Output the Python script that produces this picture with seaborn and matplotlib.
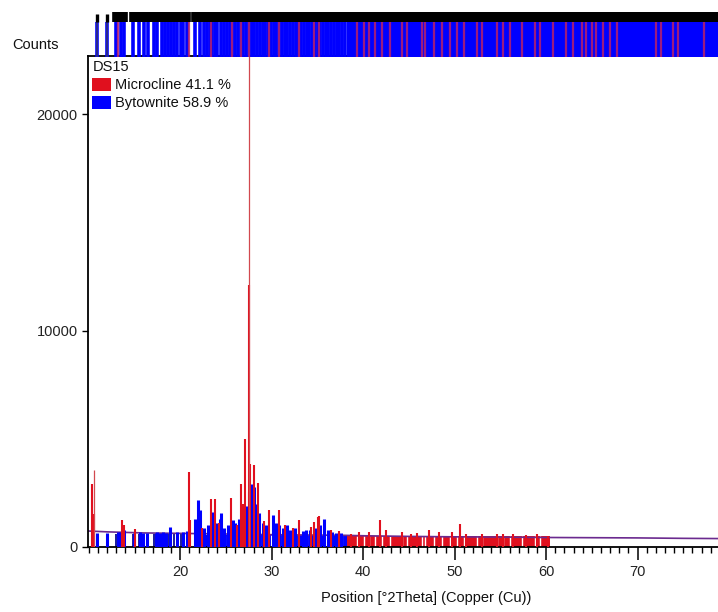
import numpy as np
import matplotlib
matplotlib.use("Agg")
import matplotlib.pyplot as plt
from matplotlib.patches import Patch
import seaborn as sns

# ---------------- data ----------------
phase_names = ["Microcline 41.1 %", "Bytownite 58.9 %"]
sample_name = "DS15"

# Microcline (red) peak sticks: position [deg 2theta], counts
microcline_pos = [10.36, 10.58, 13.63, 13.85, 15.0, 21.0, 21.1, 22.4, 23.4, 23.74,
                  24.2, 25.56, 26.2, 26.65, 26.83, 27.09, 27.48, 27.67, 28.03, 28.47,
                  29.2, 29.74, 30.83, 31.4, 32.3, 33.0, 34.3, 34.6, 35.0, 35.19,
                  36.5, 37.37, 38.65, 39.5, 40.6, 41.84, 42.5, 44.2, 45.2, 45.9,
                  47.2, 48.3, 49.7, 50.57, 51.2, 53.0, 54.6, 55.3, 56.4, 57.8, 59.0, 60.2]
microcline_counts = [2930, 1540, 1270, 1000, 830, 3470, 1270, 900, 2220, 2220,
                     1100, 2270, 1000, 2930, 2000, 5010, 12100, 3850, 3780, 2950,
                     1200, 1730, 1730, 1000, 900, 1230, 925, 1160, 1390, 1420,
                     800, 730, 620, 680, 700, 1270, 770, 700, 620, 650,
                     770, 680, 700, 1080, 620, 600, 620, 580, 600, 560, 580, 520]

# Bytownite (blue) peak sticks
bytownite_pos = [10.9, 11.95, 13.2, 13.4, 13.8, 14.9, 15.6, 15.9, 16.3, 17.3,
                 17.5, 17.8, 18.1, 18.4, 18.83, 19.6, 20.3, 20.7, 21.6, 21.9,
                 22.1, 22.6, 23.0, 23.56, 23.9, 24.3, 24.47, 24.8, 25.2, 25.74,
                 26.0, 26.4, 26.9, 27.2, 27.5, 27.7, 27.85, 28.0, 28.2, 28.56,
                 29.0, 29.4, 30.17, 30.47, 30.8, 31.2, 31.63, 32.0, 32.5, 33.4,
                 33.74, 34.2, 34.8, 35.3, 35.74, 36.2, 36.6, 37.0, 37.6]
bytownite_counts = [650, 650, 700, 700, 800, 650, 700, 650, 650, 650,
                    700, 650, 700, 650, 925, 700, 700, 750, 1300, 2190,
                    1700, 900, 1000, 1620, 1100, 1280, 1570, 900, 1000, 1250,
                    1100, 1300, 1500, 1900, 2550, 2770, 2900, 2770, 2000, 1570,
                    1100, 1000, 1460, 1090, 1000, 900, 1020, 800, 900, 730,
                    770, 800, 900, 1000, 1310, 800, 700, 650, 650]

# Observed (thin) spikes
observed_pos = [10.51, 27.48]
observed_counts = [3580, 24000]

# Background level of the pattern
bg_theta = [9.9, 12, 16, 20, 25, 30, 35, 38, 40, 45, 50, 55, 60, 65, 70, 75, 78.8]
bg_counts = [740, 700, 650, 630, 600, 570, 550, 540, 520, 490, 470, 460, 440, 430, 420, 400, 390]

# Reference line positions (top strip / bottom band)
bytownite_refs = [10.86, 11.95, 12.93, 13.47, 13.83, 14.85, 15.5, 16.0, 16.45, 17.1,
                  17.5, 18.0, 18.3, 18.7, 18.95, 19.3, 19.6, 20.1, 20.3, 20.7,
                  21.6, 22.1, 22.6, 22.9, 23.2, 23.5, 23.8, 24.05, 24.4, 24.8,
                  25.1, 25.4, 25.7, 26.0, 26.3, 26.6, 26.9, 27.2, 27.5, 27.8,
                  28.1, 28.4, 28.7, 29.0, 29.3, 29.6, 29.9, 30.2, 30.5, 30.8,
                  31.1, 31.4, 31.7, 32.0, 32.3, 32.6, 32.9, 33.2, 33.5, 33.8,
                  34.1, 34.4, 34.7, 35.0, 35.3, 35.6, 35.9, 36.2, 36.5, 36.8,
                  37.1, 37.4, 37.7, 38.0]
microcline_refs = [13.2, 21.0, 23.4, 25.6, 26.6, 27.5, 29.7, 30.8, 33.0, 34.6, 35.2,
                   39.33, 40.06, 40.6, 41.33, 42.06, 42.97, 44.25, 44.8, 46.43, 46.8,
                   47.7, 48.6, 49.5, 50.24, 50.97, 52.42, 52.97, 54.6, 55.33, 56.05,
                   57.33, 58.78, 59.33, 60.79, 62.2, 62.97, 63.9, 64.4, 64.97, 65.5,
                   66.24, 67.0, 67.7, 72.05, 72.6, 73.86, 74.4, 77.3]
strip_dense_range = [38.2, 80.0]          # region where bytownite lines merge
band_ranges = [[22.5, 38.2], [38.2, 60.4]]  # bottom band (bytownite, microcline)

# ---------------- styling ----------------
RED = "#e0101e"
BLUE = "#0000ff"
sns.set_theme(style="ticks")
plt.rcParams["font.family"] = ["Liberation Sans", "DejaVu Sans"]
plt.rcParams["font.size"] = 10.5

W, H = 718, 612
fig = plt.figure(figsize=(W / 100, H / 100), dpi=100)
L, R, B, T = 88 / W, 1.0, 1 - 547 / H, 1 - 56 / H
ax = fig.add_axes([L, B, R - L, T - B])
XMIN, XMAX = 9.9, 78.8
ax.set_xlim(XMIN, XMAX)
ax.set_ylim(0, 22700)

xtr = ax.get_xaxis_transform()

# bottom band
ax.axvspan(band_ranges[0][0], band_ranges[0][1], ymin=0, ymax=0.025, color=BLUE, lw=0, zorder=1)
ax.axvspan(band_ranges[1][0], band_ranges[1][1], ymin=0, ymax=0.023, color=RED, lw=0, zorder=1)
ax.vlines([p for p in microcline_refs if band_ranges[1][0] < p < band_ranges[1][1]],
          0, 0.023, transform=xtr, color="white", lw=1.0, zorder=1.5)
ax.vlines([p for p in bytownite_refs if p < band_ranges[0][0]], 0, 0.026, transform=xtr,
          color="#1a1a9a", lw=1.4, zorder=1.5)
ax.vlines([p for p in bytownite_refs if band_ranges[0][0] < p < band_ranges[0][1]][::2],
          0, 0.025, transform=xtr, color="white", lw=0.8, zorder=1.5)

# background line
sns.lineplot(x=bg_theta, y=bg_counts, ax=ax, color="#6b2a8f", lw=1.2, zorder=2)

# peak sticks
ax.vlines(bytownite_pos, 0, bytownite_counts, color=BLUE, lw=2.2, zorder=3)
ax.vlines(microcline_pos, 0, microcline_counts, color=RED, lw=1.5, zorder=4)
ax.vlines(observed_pos, 0, observed_counts, color="#d2484f", lw=0.9, zorder=5)

# axes styling
ax.spines["right"].set_visible(False)
for s in ["left", "bottom", "top"]:
    ax.spines[s].set_color("black")
    ax.spines[s].set_linewidth(1.3)
ax.set_xticks([20, 30, 40, 50, 60, 70])
ax.set_xticks(np.arange(10, 79, 1), minor=True)
ax.set_yticks([0, 10000, 20000])
ax.tick_params(axis="x", which="major", length=9, width=1.1, color="black", labelsize=10.5,
               labelcolor="#222222", pad=4, direction="out")
ax.tick_params(axis="x", which="minor", length=4.5, width=1.0, color="black", direction="out")
ax.tick_params(axis="y", which="major", length=4.5, width=1.0, color="black", labelsize=10.5,
               labelcolor="#222222", pad=3, direction="out")
ax.set_xlabel("")
ax.set_ylabel("")
ax.grid(False)

# legend
handles = [Patch(facecolor=RED, edgecolor="none"), Patch(facecolor=BLUE, edgecolor="none")]
leg = ax.legend(handles, phase_names, title=sample_name, loc="upper left",
                bbox_to_anchor=(0.0, 1.0), borderaxespad=0.0, frameon=False,
                handlelength=1.25, handleheight=0.95, handletextpad=0.3,
                labelspacing=0.25, borderpad=0.3, alignment="left",
                fontsize=10.5, title_fontsize=10.5)
for t in leg.get_texts():
    t.set_color("#111111")
leg.get_title().set_color("#111111")

# top reference strip
sax = fig.add_axes([L, 1 - 57 / H, R - L, (57 - 12) / H], zorder=5)
sax.set_xlim(XMIN, XMAX)
sax.set_ylim(0, 1)
sax.axis("off")
sax.axvspan(strip_dense_range[0], strip_dense_range[1], ymin=0, ymax=0.78, color=BLUE, lw=0)
sax.axvspan(strip_dense_range[0], strip_dense_range[1], ymin=0.78, ymax=1, color="black", lw=0)
sax.vlines(bytownite_refs, 0, 0.78, color=BLUE, lw=2.6)
sax.vlines([p for p in bytownite_refs if p < 12.5], 0, 0.78, color="#2a2a8a", lw=1.4)
sax.vlines(microcline_refs, 0, 0.78, color="#b8206a", lw=1.6, alpha=0.85)
sax.vlines([p for p in bytownite_refs if p >= 12.5], 0.78, 1, color="black", lw=5.5)
sax.vlines([p for p in bytownite_refs if p < 12.5], 0.78, 0.95, color="black", lw=2.4)

fig.text(12 / W, 1 - 45 / H, "Counts", fontsize=10.5, color="#111111", va="center", ha="left")
fig.text(426 / W, 1 - 598 / H, "Position [°2Theta] (Copper (Cu))", fontsize=10.5,
         color="#111111", va="center", ha="center")

fig.savefig("out.png", dpi=100)
